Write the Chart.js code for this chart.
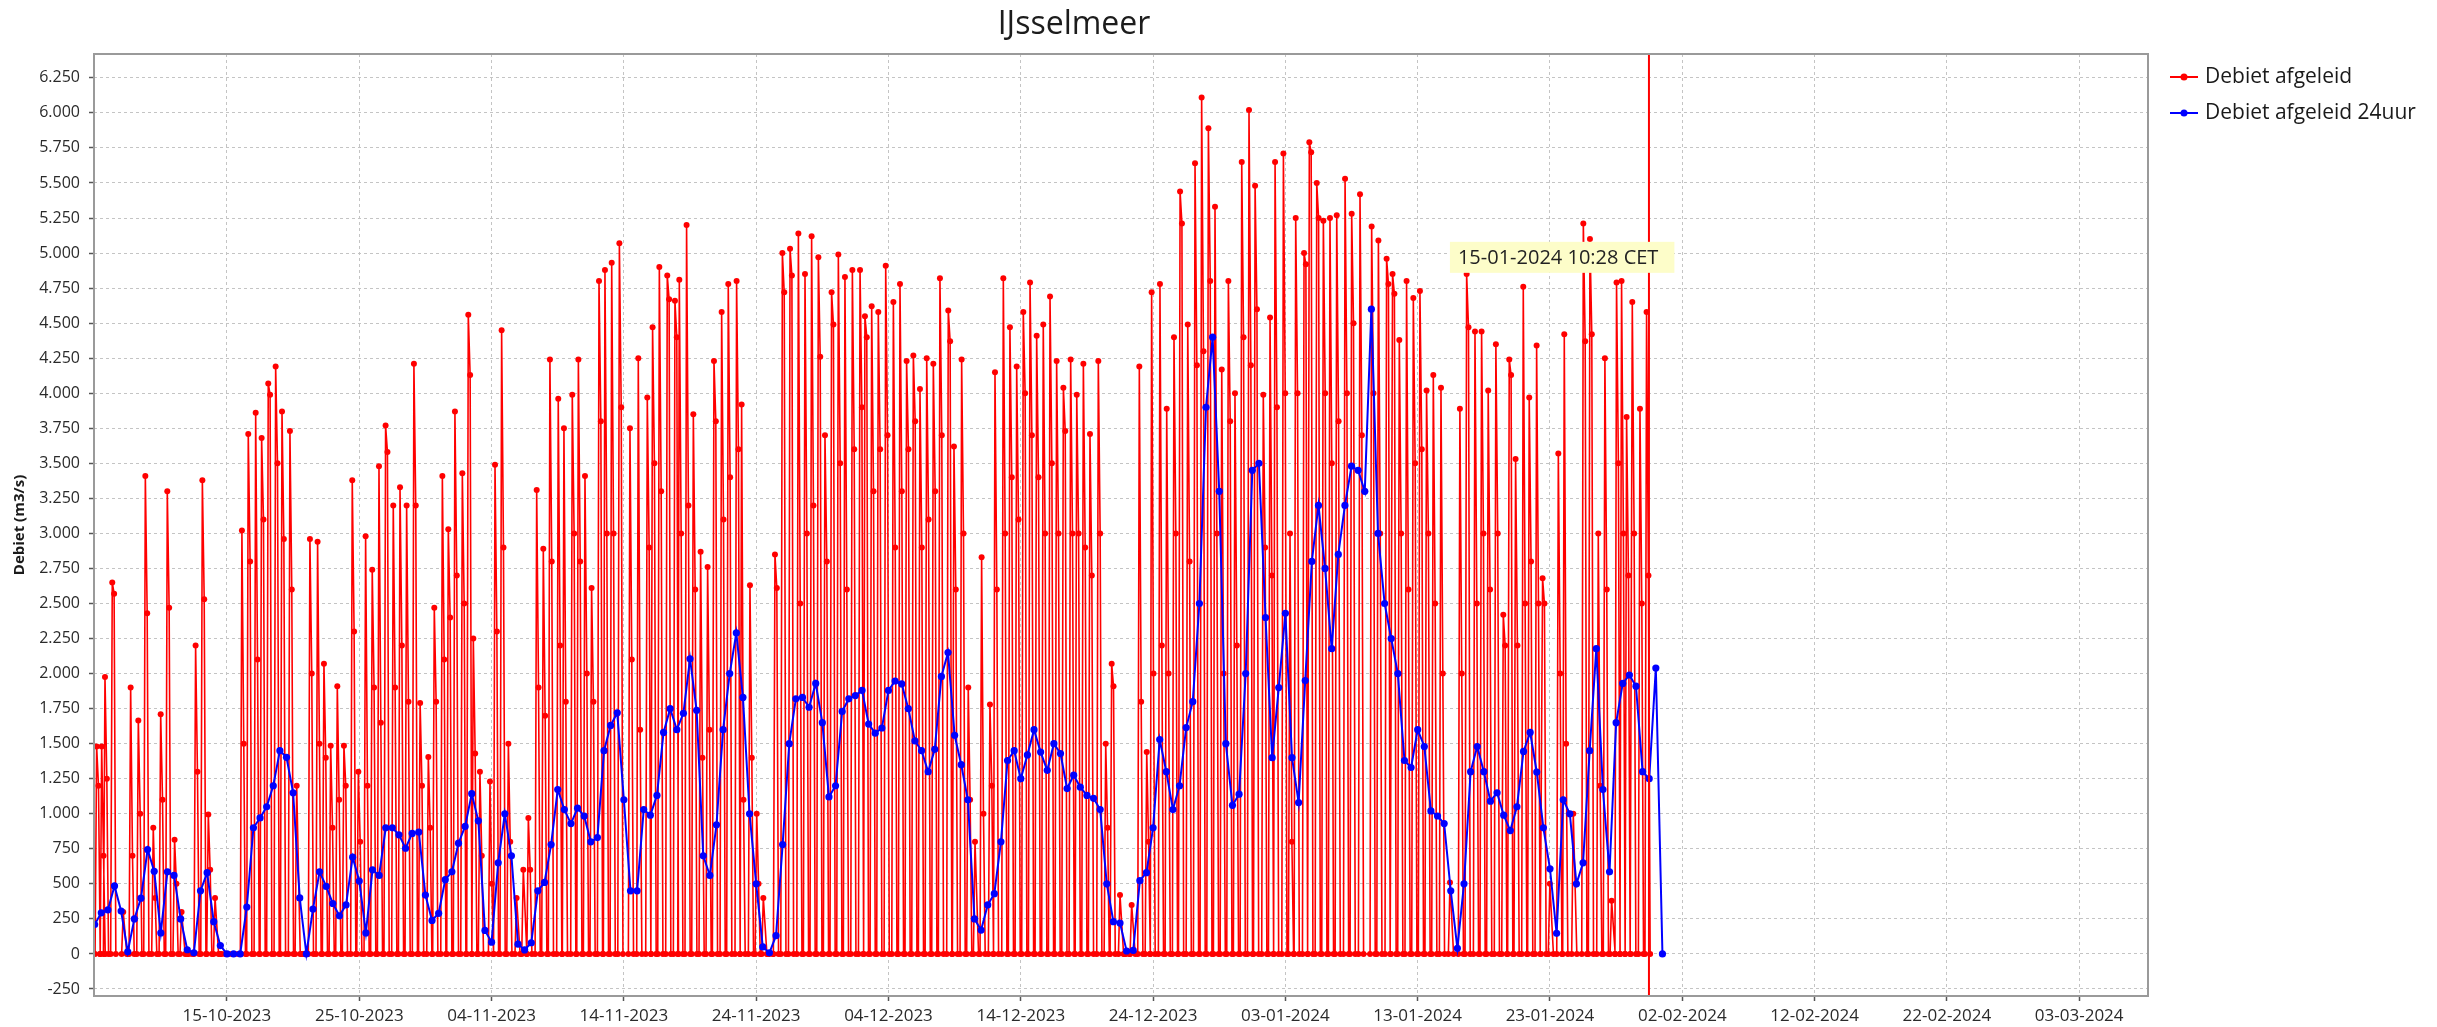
<!DOCTYPE html>
<html><head><meta charset="utf-8">
<script src="https://cdn.jsdelivr.net/npm/chart.js@4.4.1/dist/chart.umd.min.js"></script>
<style>html,body{margin:0;padding:0;background:#fff;}canvas{display:block;}</style>
</head><body>
<canvas id="c" width="2437" height="1027"></canvas>
<script>
// ---------- texts ----------
const chartTitle = 'IJsselmeer';
const yAxisTitle = 'Debiet (m3/s)';
const seriesNames = ['Debiet afgeleid', 'Debiet afgeleid 24uur'];
const noteText = '15-01-2024 10:28 CET';

// ---------- x axis: days counted from 15-10-2023 00:00 ----------
const xMinDay = -10.05, xMaxDay = 145.2;
const xTickDays = [0, 10, 20, 30, 40, 50, 60, 70, 80, 90, 100, 110, 120, 130, 140];
const xTickLabels = ['15-10-2023','25-10-2023','04-11-2023','14-11-2023','24-11-2023','04-12-2023',
  '14-12-2023','24-12-2023','03-01-2024','13-01-2024','23-01-2024','02-02-2024','12-02-2024',
  '22-02-2024','03-03-2024'];

// ---------- y axis ----------
const yMin = -300, yMax = 6420;
const yTickValues = [-250,0,250,500,750,1000,1250,1500,1750,2000,2250,2500,2750,3000,3250,
  3500,3750,4000,4250,4500,4750,5000,5250,5500,5750,6000,6250];

// ---------- markers ----------
const nowDay = 107.48;       // vertical red line (30-01-2024)
const noteDay = 92.436;      // 15-01-2024 10:28
const noteValue = 5080;

// ---------- "Debiet afgeleid": sluice discharge pulses (day, peak, following value) ----------
const redDay = [
-9.85,-9.47,-9.22,-8.67,-7.84,-7.28,-6.70,-6.17,-5.57,-5.01,
-4.51,-3.96,-3.43,-2.90,-2.37,-1.86,-1.41,-0.90,-0.40,0.10,
0.60,1.13,1.61,2.17,2.62,3.12,3.68,4.16,4.76,5.27,
5.77,6.27,6.85,7.33,7.84,8.34,8.84,9.47,9.93,10.48,
10.98,11.49,11.99,12.57,13.08,13.58,14.13,14.60,15.22,15.67,
16.28,16.73,17.23,17.79,18.24,18.62,19.12,19.88,20.26,20.76,
21.27,21.89,22.40,22.78,23.41,23.91,24.41,25.04,25.47,26.10,
26.56,27.06,27.56,28.12,28.57,29.08,29.66,30.46,31.09,31.77,
32.17,32.68,33.28,33.86,34.19,34.74,35.25,35.80,36.33,36.81,
37.39,37.89,38.52,38.90,39.53,40.04,40.54,41.00,41.42,41.98,
42.56,43.19,43.69,44.19,44.70,45.20,45.70,46.21,46.71,47.27,
47.85,48.22,48.73,49.23,49.79,50.37,50.87,51.37,51.88,52.38,
52.89,53.39,53.89,54.52,54.95,55.53,56.03,56.54,57.04,57.67,
58.05,58.68,59.18,59.69,60.19,60.70,61.20,61.70,62.21,62.71,
63.22,63.77,64.23,64.73,65.23,65.86,66.42,66.87,67.50,67.95,
68.38,68.96,69.52,69.89,70.52,71.03,71.58,72.04,72.62,73.17,
73.67,74.18,74.68,75.19,75.69,76.19,76.70,77.25,77.71,78.33,
78.84,79.22,79.85,80.35,80.78,81.41,81.81,82.37,82.87,83.37,
83.88,84.51,85.01,85.64,86.52,87.03,87.65,88.10,88.61,89.16,
89.67,90.17,90.67,91.18,91.76,92.44,93.19,93.70,94.33,94.83,
95.33,95.91,96.47,96.92,97.40,97.98,98.43,98.99,99.44,99.99,
100.63,101.08,101.76,102.52,103.02,103.65,104.15,104.66,105.03,105.41,
105.79,106.22,106.80,107.30];
const redPeak = [
1480,1480,1975,2650,300,1900,1665,3410,900,1710,
3300,815,300,0,2200,3380,995,400,0,0,
0,3020,3710,3860,3680,4070,4190,3870,3730,1200,
0,2960,2940,2070,1485,1910,1485,3380,1300,2980,
2740,3480,3770,3200,3330,3200,4210,1790,1405,2470,
3410,3030,3870,3430,4560,2250,1300,1230,3490,4450,
1500,400,600,970,3310,2890,4240,3960,3750,3990,
4240,3410,2610,4800,4880,4930,5070,3750,4250,3970,
4470,4900,4840,4660,4810,5200,3850,2870,2760,4230,
4580,4780,4800,3920,2630,1000,400,0,2850,5000,
5030,5140,4850,5120,4970,3700,4720,4990,4830,4880,
4880,4550,4620,4580,4910,4650,4780,4230,4270,4030,
4250,4210,4820,4590,3620,4240,1900,800,2830,1780,
4150,4820,4470,4190,4580,4790,4410,4490,4690,4230,
4040,4240,3990,4210,3710,4230,1500,2070,420,0,
350,4190,1440,4720,4780,3890,4400,5440,4490,5640,
6110,5890,5330,4170,4800,4000,5650,6020,5480,3990,
4540,5650,5710,3000,5250,5000,5790,5500,5230,5250,
5270,5530,5280,5420,5190,5090,4960,4850,4380,4800,
4680,4730,4020,4130,4040,510,3890,4850,4440,4440,
4020,4350,2420,4240,3530,4760,3970,4340,2680,500,
3570,4420,1000,5210,5100,3000,4250,380,4790,4800,
3830,4650,3890,4580];
const redSecond = [
1200,700,1250,2570,0,700,1000,2430,400,1100,
2470,500,0,0,1300,2530,600,0,0,0,
0,1500,2800,2100,3100,3990,3500,2960,2600,0,
0,2000,1500,1400,900,1100,1200,2300,800,1200,
1900,1650,3580,1900,2200,1800,3200,1200,900,1800,
2100,2400,2700,2500,4130,1430,700,500,2300,2900,
800,0,0,600,1900,1700,2800,2200,1800,3000,
2800,2000,1800,3800,3000,3000,3900,2100,1600,2900,
3500,3300,4670,4400,3000,3200,2600,1400,1600,3800,
3100,3400,3600,1100,1400,500,0,0,2610,4720,
4840,2500,3000,3200,4260,2800,4490,3500,2600,3600,
3900,4400,3300,3600,3700,2900,3300,3600,3800,2900,
3100,3300,3700,4370,2600,3000,1100,0,1000,1200,
2600,3000,3400,3100,4000,3700,3400,3000,3500,3000,
3730,3000,3000,2900,2700,3000,900,1910,0,0,
0,1800,800,2000,2200,2000,3000,5210,2800,4200,
4300,4800,3000,2000,3800,2200,4400,4200,4600,2900,
2700,3900,4000,800,4000,4920,5720,5250,4000,3500,
3800,4000,4500,3700,4000,3000,4780,4710,3000,2600,
3500,3600,3000,2500,2000,0,2000,4470,2500,3000,
2600,3000,2200,4130,2200,2500,2800,2500,2500,0,
2000,1500,0,4370,4420,1200,2600,0,3500,3000,
2700,3000,2500,2700];

// ---------- "Debiet afgeleid 24uur": one value every 12 h from day -10 ----------
const blueStartDay = -10, blueStepDay = 0.5;
const blueVal = [
210,293,314,485,306,15,250,398,745,590,
150,586,560,250,30,8,450,580,230,60,
0,0,0,335,900,970,1050,1200,1450,1403,
1150,400,0,320,586,482,360,272,350,690,
520,150,600,560,900,900,850,754,860,870,
420,239,290,530,586,790,910,1143,950,168,
84,650,1000,700,70,29,80,450,510,780,
1173,1030,930,1040,984,800,830,1450,1630,1720,
1100,450,450,1030,990,1131,1580,1750,1600,1717,
2106,1738,700,560,921,1600,2000,2290,1830,1000,
500,50,8,130,780,1500,1820,1830,1760,1930,
1650,1120,1200,1730,1820,1843,1880,1640,1575,1612,
1880,1947,1926,1750,1520,1450,1300,1460,1980,2150,
1560,1350,1100,250,170,350,430,800,1380,1450,
1250,1420,1600,1440,1310,1500,1430,1180,1275,1190,
1131,1110,1030,500,230,220,21,25,523,580,
900,1529,1300,1030,1200,1615,1800,2500,3900,4400,
3300,1500,1060,1140,2000,3450,3500,2400,1400,1900,
2430,1400,1080,1950,2800,3200,2750,2178,2850,3200,
3480,3450,3300,4600,3000,2500,2250,2000,1380,1330,
1600,1480,1020,984,930,450,40,500,1300,1480,
1300,1090,1150,990,880,1050,1445,1580,1298,900,
607,147,1100,1000,500,650,1450,2178,1173,586,
1650,1930,1990,1910,1300,1250,2040,0];

// ---------- build library tables ----------
const redData = [];
redDay.forEach((t, i) => {
  redData.push({x: t - 0.12, y: 0});
  redData.push({x: t, y: redPeak[i]});
  if (redSecond[i] > 0) redData.push({x: t + 0.14, y: redSecond[i]});
  redData.push({x: t + 0.27, y: 0});
});
const blueData = blueVal.map((v, i) => ({x: blueStartDay + i * blueStepDay, y: v}));

const RED = '#ff0000', BLUE = '#0000ff';
const FONT = '"Open Sans", "Noto Sans", sans-serif';

function fmtNL(v) {
  const s = String(Math.abs(v)).replace(/\B(?=(\d{3})+(?!\d))/g, '.');
  return (v < 0 ? '-' : '') + s;
}

const decor = {
  id: 'decor',
  afterDatasetsDraw(chart) {
    const {ctx, chartArea: a, scales: {x, y}} = chart;
    ctx.save();
    const xm = x.getPixelForValue(nowDay);
    ctx.strokeStyle = RED; ctx.lineWidth = 2;
    ctx.beginPath(); ctx.moveTo(xm, a.top); ctx.lineTo(xm, a.bottom); ctx.stroke();
    ctx.font = '20px ' + FONT;
    const tw = ctx.measureText(noteText).width;
    const nx = x.getPixelForValue(noteDay), ny = y.getPixelForValue(noteValue);
    ctx.fillStyle = '#fdfdc9';
    ctx.fillRect(nx, ny, tw + 24, 31);
    ctx.fillStyle = '#222';
    ctx.textBaseline = 'middle'; ctx.textAlign = 'left';
    ctx.fillText(noteText, nx + 8, ny + 16);
    ctx.restore();
  },
  afterDraw(chart) {
    const {ctx, chartArea: a} = chart;
    ctx.save();
    ctx.strokeStyle = '#9a9a9a'; ctx.lineWidth = 2;
    ctx.strokeRect(a.left, a.top, a.right - a.left, a.bottom - a.top);
    ctx.fillStyle = '#1c1c1c';
    ctx.font = '32px ' + FONT;
    ctx.textAlign = 'center'; ctx.textBaseline = 'alphabetic';
    ctx.fillText(chartTitle, a.right / 2, 34);
    const cols = [RED, BLUE];
    ctx.font = '21px ' + FONT;
    ctx.textAlign = 'left'; ctx.textBaseline = 'middle';
    seriesNames.forEach((name, i) => {
      const yy = 77 + i * 36;
      const x0 = a.right + 22, x1 = a.right + 50;
      ctx.strokeStyle = cols[i]; ctx.lineWidth = 2;
      ctx.beginPath(); ctx.moveTo(x0, yy); ctx.lineTo(x1, yy); ctx.stroke();
      ctx.fillStyle = cols[i];
      ctx.beginPath(); ctx.arc((x0 + x1) / 2, yy, 3.5, 0, Math.PI * 2); ctx.fill();
      ctx.fillStyle = '#1a1a1a';
      ctx.fillText(name, a.right + 57, yy);
    });
    ctx.restore();
  }
};

new Chart(document.getElementById('c'), {
  type: 'line',
  data: {
    datasets: [
      {label: seriesNames[1], data: blueData, borderColor: BLUE, backgroundColor: BLUE,
       borderWidth: 2, pointRadius: 3.6, pointBorderWidth: 0, pointBackgroundColor: BLUE,
       tension: 0, order: 0},
      {label: seriesNames[0], data: redData, borderColor: RED, backgroundColor: RED,
       borderWidth: 1.6, pointRadius: 3, pointBorderWidth: 0, pointBackgroundColor: RED,
       tension: 0, order: 1}
    ]
  },
  options: {
    responsive: false, animation: false, devicePixelRatio: 1,
    parsing: false, normalized: true,
    layout: {padding: {left: 0, top: 54, right: 289, bottom: 0}},
    plugins: {legend: {display: false}, tooltip: {enabled: false}, title: {display: false}},
    scales: {
      x: {
        type: 'linear', min: xMinDay, max: xMaxDay,
        afterBuildTicks: s => { s.ticks = xTickDays.map(v => ({value: v})); },
        afterFit: s => { s.height = 31; },
        ticks: {
          autoSkip: false, maxRotation: 0, minRotation: 0, padding: 5, color: '#2a2a2a',
          font: {family: FONT, size: 17},
          callback: v => { const k = xTickDays.indexOf(v); return k >= 0 ? xTickLabels[k] : ''; }
        },
        grid: {color: '#c4c4c4', lineWidth: 1, borderDash: [3, 3], tickLength: 5,
               tickColor: '#555', tickWidth: 1.5},
        border: {display: false, dash: [3, 3]}
      },
      y: {
        type: 'linear', min: yMin, max: yMax,
        afterBuildTicks: s => { s.ticks = yTickValues.map(v => ({value: v})); },
        afterFit: s => { s.width = 94; },
        ticks: {padding: 9, color: '#2a2a2a', font: {family: FONT, size: 16},
                callback: v => fmtNL(v)},
        grid: {color: '#c4c4c4', lineWidth: 1, borderDash: [3, 3], tickLength: 5,
               tickColor: '#555', tickWidth: 1.5},
        border: {display: false, dash: [3, 3]},
        title: {display: true, text: yAxisTitle, color: '#1a1a1a',
                font: {family: FONT, size: 15, weight: 'bold'}, padding: {top: 11, bottom: 0}}
      }
    }
  },
  plugins: [decor]
});
</script>
</body></html>
